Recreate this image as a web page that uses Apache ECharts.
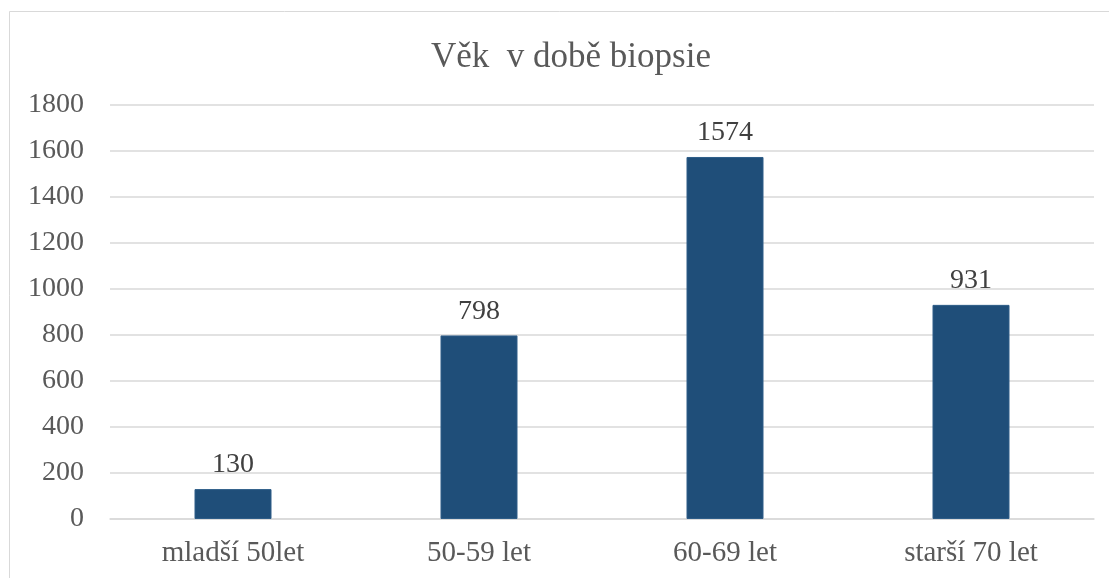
<!DOCTYPE html>
<html>
<head>
<meta charset="utf-8">
<script src="https://cdn.jsdelivr.net/npm/echarts@6/dist/echarts.min.js"></script>
<style>
html,body{margin:0;padding:0;background:#fff;}
#c{width:1109px;height:578px;}
</style>
</head>
<body>
<div id="c"></div>
<script>
const titleText = "Věk  v době biopsie";
const categories = ["mladší 50let", "50-59 let", "60-69 let", "starší 70 let"];
const values = [130, 798, 1574, 931];
const yMin = 0, yMax = 1800, yStep = 200;

const font = '"Liberation Serif", "Times New Roman", serif';
const chart = echarts.init(document.getElementById('c'), null, {renderer: 'canvas'});
chart.setOption({
  animation: false,
  backgroundColor: '#fff',
  graphic: [{
    type: 'rect',
    shape: {x: 9.5, y: 11.5, width: 1300, height: 800},
    style: {fill: 'none', stroke: '#d9d9d9', lineWidth: 1},
    silent: true, z: -1
  }],
  title: {
    text: titleText,
    left: 426,
    top: 35,
    textStyle: {fontFamily: font, fontSize: 35, fontWeight: 'normal', color: '#595959'}
  },
  grid: {left: 110, right: 15, top: 105, bottom: 59, containLabel: false},
  xAxis: {
    type: 'category',
    data: categories,
    axisLine: {show: true, lineStyle: {color: '#d9d9d9', width: 1.5}},
    axisTick: {show: false},
    axisLabel: {fontFamily: font, fontSize: 29, color: '#595959', margin: 20}
  },
  yAxis: {
    type: 'value',
    min: yMin, max: yMax, interval: yStep,
    axisLine: {show: false},
    axisTick: {show: false},
    splitLine: {lineStyle: {color: '#d9d9d9', width: 1.5}},
    axisLabel: {fontFamily: font, fontSize: 28, color: '#595959', margin: 26,
      formatter: v => String(v)}
  },
  series: [{
    type: 'bar',
    data: values,
    barWidth: 77,
    itemStyle: {color: '#1f4e79', borderColor: '#2e5d88', borderWidth: 1},
    label: {
      show: true, position: 'top', distance: 10,
      fontFamily: font, fontSize: 28, color: '#404040'
    }
  }]
});
</script>
</body>
</html>
